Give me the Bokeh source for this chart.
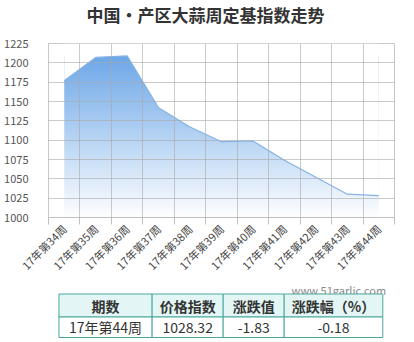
import numpy as np
from bokeh.plotting import figure
from bokeh.models import Range1d, FixedTicker
from bokeh.layouts import column
from bokeh.embed import file_html
from bokeh.resources import INLINE
from bokeh.core.properties import value

# ---- data ----
weeks = ["17年第34周", "17年第35周", "17年第36周", "17年第37周", "17年第38周",
         "17年第39周", "17年第40周", "17年第41周", "17年第42周", "17年第43周", "17年第44周"]
index_values = [1177, 1207, 1209, 1142, 1117, 1098, 1099, 1074, 1052, 1030.15, 1028.32]
y_ticks = [1000, 1025, 1050, 1075, 1100, 1125, 1150, 1175, 1200, 1225]
table_headers = ["期数", "价格指数", "涨跌值", "涨跌幅（%）"]
table_row = ["17年第44周", "1028.32", "-1.83", "-0.18"]
title_text = "中国·产区大蒜周定基指数走势"
watermark = "www.51garlic.com"

FONT = "Noto Sans CJK SC"
y_lo, y_hi = 1000, 1225
n = len(weeks)
centers = [i + 0.5 for i in range(n)]

def blank(h):
    f = figure(width=414, height=h, x_range=Range1d(0, 414), y_range=Range1d(h, 0),
               output_backend="svg", toolbar_location=None, min_border=0)
    f.axis.visible = False
    f.grid.visible = False
    f.outline_line_color = None
    return f

# ---- title strip ----
tt = blank(30)
tt.text(x=[188], y=[14], text=[title_text], text_align="center", text_baseline="middle",
        text_font=value(FONT), text_font_size="17px", text_font_style="bold", text_color="#333333")

# ---- chart ----
p = figure(width=414, height=251, x_range=Range1d(0, n), y_range=Range1d(y_lo, y_hi),
           output_backend="svg", toolbar_location=None,
           min_border_left=48, min_border_right=20, min_border_top=13, min_border_bottom=62)
p.outline_line_color = "#c8c8c8"

vmax = max(index_values)
N = 256
t = np.linspace(0, 1, N)
top_rgb = np.array([108, 167, 232])
img = np.empty((N, 1), dtype=np.uint32)
view = img.view(dtype=np.uint8).reshape((N, 1, 4))
for k in range(3):
    view[:, 0, k] = (255 * (1 - t) + top_rgb[k] * t).astype(np.uint8)
view[:, 0, 3] = 255
p.image_rgba(image=[img], x=centers[0], y=y_lo, dw=centers[-1] - centers[0], dh=vmax - y_lo)
p.varea(x=centers, y1=index_values, y2=[y_hi] * n, fill_color="white")
p.line(centers, index_values, line_color="#86b3e6", line_width=1.2)

p.xaxis.ticker = FixedTicker(ticks=centers, minor_ticks=list(range(n + 1)))
p.xaxis.major_label_overrides = {c: w for c, w in zip(centers, weeks)}
p.xaxis.major_label_orientation = np.pi / 4
p.xaxis.major_tick_line_color = None
p.xaxis.minor_tick_line_color = "#c0c0c0"
p.xaxis.minor_tick_out = 7
p.xaxis.minor_tick_in = 0
p.xaxis.axis_line_color = "#c0c0c0"
p.xaxis.major_label_standoff = 2
p.xaxis.major_label_text_font = FONT
p.xaxis.major_label_text_font_size = "11px"
p.xaxis.major_label_text_color = "#444444"

p.yaxis.ticker = FixedTicker(ticks=y_ticks)
p.yaxis.axis_line_color = None
p.yaxis.major_tick_line_color = None
p.yaxis.minor_tick_line_color = None
p.yaxis.major_label_standoff = 14
p.yaxis.major_label_text_font = FONT
p.yaxis.major_label_text_font_size = "11px"
p.yaxis.major_label_text_color = "#555555"

p.xgrid.ticker = FixedTicker(ticks=list(range(n + 1)))
p.ygrid.ticker = FixedTicker(ticks=y_ticks)
for g in (p.xgrid, p.ygrid):
    g.grid_line_color = "#a8a8a8"
    g.grid_line_alpha = 0.6
    g.level = "overlay"

# ---- watermark + table ----
tb = blank(61)
tb.text(x=[404], y=[0.5], text=[watermark], text_align="right", text_baseline="top",
        text_font=value(FONT), text_font_size="11px", text_color="#888888")
cols = [12.5, 124, 209, 282, 400]
lefts, rights = cols[:-1], cols[1:]
mids = [(a + b) / 2 for a, b in zip(lefts, rights)]
border = "#4aa69c"
r0, r1, r2 = 12.5, 35.5, 56
tb.quad(left=lefts, right=rights, top=[r0] * 4, bottom=[r1] * 4,
        fill_color="#e3f6f5", line_color=border, line_width=1)
tb.quad(left=lefts, right=rights, top=[r1] * 4, bottom=[r2] * 4,
        fill_color="white", line_color=border, line_width=1)
tb.text(x=mids, y=[(r0 + r1) / 2] * 4, text=table_headers, text_align="center", text_baseline="middle",
        text_font=value(FONT), text_font_size="14px", text_font_style="bold", text_color="#333333")
tb.text(x=mids, y=[(r1 + r2) / 2] * 4, text=table_row, text_align="center", text_baseline="middle",
        text_font=value(FONT), text_font_size="14px", text_color="#333333")

layout = column(tt, p, tb, spacing=0)
open("out.html", "w").write(file_html(layout, INLINE))
